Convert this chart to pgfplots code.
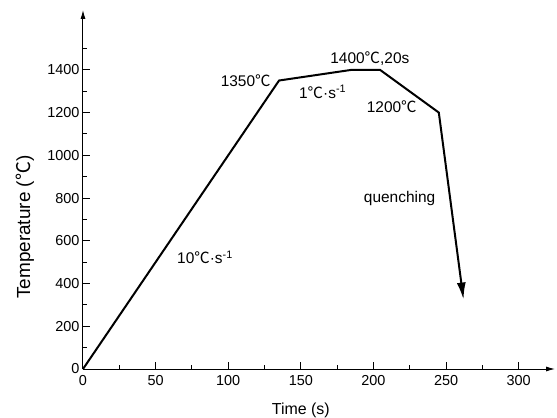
\documentclass[border=0pt]{standalone}
\usepackage{fontspec}
\setmainfont{Liberation Sans}
\newfontfamily\cjk{Noto Sans CJK SC}
\usepackage{pgfplots}
\pgfplotsset{compat=1.18}
\usetikzlibrary{arrows.meta}
\newcommand{\dC}{{\cjk ℃}}
\begin{document}
\begin{tikzpicture}
\path[use as bounding box] (-83bp,-49bp) rectangle (474bp,369bp);
\begin{axis}[
  anchor=origin, at={(0,0)},
  scale only axis, width=472bp, height=359bp,
  xmin=0, xmax=325, ymin=0, ymax=1680,
  axis lines=left,
  x axis line style={line width=1bp, -{Latex[length=9bp,width=5bp]}},
  y axis line style={line width=1bp, -{Latex[length=9bp,width=5bp]}},
  xtick={0,50,...,300}, ytick={0,200,...,1400},
  minor xtick={25,75,...,275}, minor ytick={100,300,...,1500},
  tick align=inside, major tick length=7bp, minor tick length=4bp,
  tick style={black, line width=1bp},
  /pgf/number format/assume math mode=true,
  /pgf/number format/1000 sep={},
  every tick label/.append style={font=\fontsize{14.5}{16}\selectfont},
  xticklabel style={yshift=-3bp},
  xlabel={Time (s)}, ylabel={Temperature (\dC)},
  every axis x label/.append style={font=\fontsize{16}{18}\selectfont},
  every axis y label/.append style={font=\fontsize{19}{21}\selectfont},
  x label style={at={(axis description cs:0.4615,0)}, anchor=base, yshift=-45bp},
  y label style={at={(axis description cs:-0.123,0.395)}, anchor=center},
  clip=false,
]
\addplot[black, line width=2bp, line join=miter, -{Latex[length=17bp,width=9bp]}]
  coordinates {(0,0) (135,1350) (185,1400) (204.5,1400) (245,1200) (262,325)};
\begin{scope}[every node/.style={font=\fontsize{15.5}{17}\selectfont, inner sep=0pt}]
\node at (axis cs:112,1348) {1350\dC};
\node at (axis cs:197.5,1451) {1400\dC,20s};
\node at (axis cs:165,1297) {1\dC·s\textsuperscript{-1}};
\node at (axis cs:212.6,1227) {1200\dC};
\node at (axis cs:218,800) {quenching};
\node at (axis cs:84,524) {10\dC·s\textsuperscript{-1}};
\end{scope}
\end{axis}
\end{tikzpicture}
\end{document}
